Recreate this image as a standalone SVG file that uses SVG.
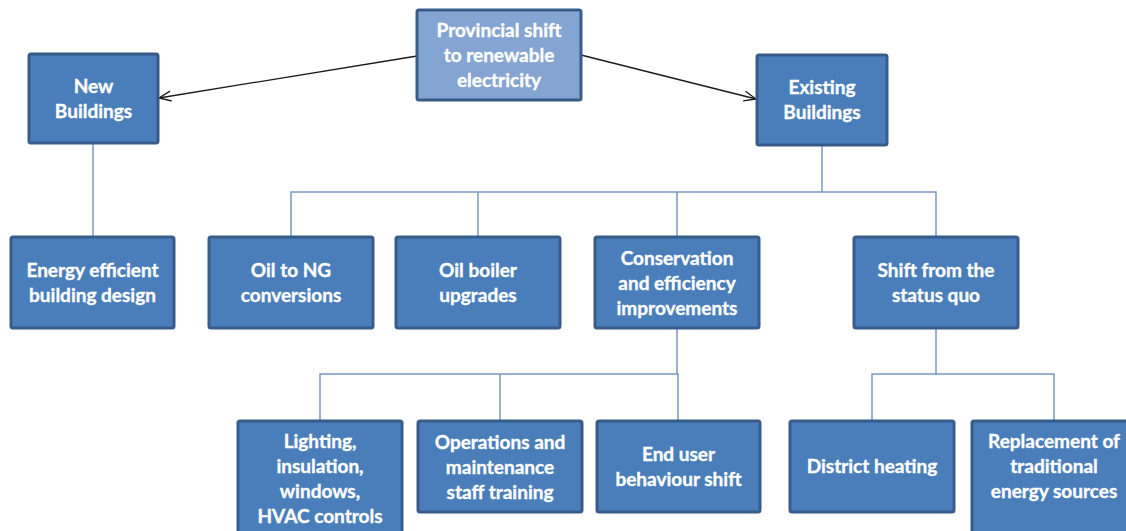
<svg xmlns="http://www.w3.org/2000/svg" width="1126" height="531" viewBox="0 0 1126 531">
<defs>
<style>
.box{fill:#4A7EBB;stroke:#385C8A;stroke-width:3}
.top{fill:#84A4D2;stroke:#385C8A;stroke-width:3}
.t{font-family:Lato,"Liberation Sans",sans-serif;font-weight:700;font-size:19px;fill:#FFFFFF;stroke:#FFFFFF;stroke-width:0.35;text-anchor:middle}
.c{fill:none;stroke:#7A98BF;stroke-width:1.5}
.a{fill:none;stroke:#1A1A1A;stroke-width:1.3}
</style>
<marker id="arr" markerWidth="14" markerHeight="12" refX="13" refY="6" orient="auto" markerUnits="userSpaceOnUse">
<path d="M1,1 L13,6 L1,11" fill="none" stroke="#1A1A1A" stroke-width="1.3"/>
</marker>
</defs>
<rect width="1126" height="531" fill="#FFFFFF"/>
<g id="connectors">
<line class="a" x1="417" y1="56" x2="159" y2="98" marker-end="url(#arr)"/>
<line class="a" x1="581" y1="55" x2="756" y2="99" marker-end="url(#arr)"/>
<path class="c" d="M93,143 V237"/>
<path class="c" d="M822,145 V192"/>
<path class="c" d="M291,237 V192 H936 V237"/>
<path class="c" d="M478,192 V237"/>
<path class="c" d="M677,192 V237"/>
<path class="c" d="M677,328 V374"/>
<path class="c" d="M320,421 V374 H678 V421"/>
<path class="c" d="M500,374 V421"/>
<path class="c" d="M936,328 V374"/>
<path class="c" d="M872,421 V374 H1054 V421"/>
</g>
<g id="n-provincial">
<rect class="top" x="417" y="10" width="164" height="90" rx="2"/>
<text class="t"><tspan x="499" y="37">Provincial shift</tspan><tspan x="499" y="62">to renewable</tspan><tspan x="499" y="87">electricity</tspan></text>
</g>
<g id="n-new">
<rect class="box" x="29" y="54" width="129" height="89" rx="2"/>
<text class="t"><tspan x="93.5" y="93">New</tspan><tspan x="93.5" y="118">Buildings</tspan></text>
</g>
<g id="n-existing">
<rect class="box" x="757" y="55" width="130" height="90" rx="2"/>
<text class="t"><tspan x="822" y="94">Existing</tspan><tspan x="822" y="119">Buildings</tspan></text>
</g>
<g id="n-energy">
<rect class="box" x="11" y="237" width="163" height="91" rx="2"/>
<text class="t"><tspan x="92.5" y="277">Energy efficient</tspan><tspan x="92.5" y="302">building design</tspan></text>
</g>
<g id="n-oilng">
<rect class="box" x="209" y="237" width="164" height="91" rx="2"/>
<text class="t"><tspan x="291" y="277">Oil to NG</tspan><tspan x="291" y="302">conversions</tspan></text>
</g>
<g id="n-boiler">
<rect class="box" x="396" y="237" width="164" height="91" rx="2"/>
<text class="t"><tspan x="478" y="277">Oil boiler</tspan><tspan x="478" y="302">upgrades</tspan></text>
</g>
<g id="n-conservation">
<rect class="box" x="595" y="237" width="164" height="91" rx="2"/>
<text class="t"><tspan x="677" y="265">Conservation</tspan><tspan x="677" y="290">and efficiency</tspan><tspan x="677" y="315">improvements</tspan></text>
</g>
<g id="n-shift">
<rect class="box" x="854" y="237" width="164" height="91" rx="2"/>
<text class="t"><tspan x="936" y="277">Shift from the</tspan><tspan x="936" y="302">status quo</tspan></text>
</g>
<g id="n-lighting">
<rect class="box" x="238" y="421" width="164" height="118" rx="2"/>
<text class="t"><tspan x="320" y="448">Lighting,</tspan><tspan x="320" y="473">insulation,</tspan><tspan x="320" y="498">windows,</tspan><tspan x="320" y="523">HVAC controls</tspan></text>
</g>
<g id="n-operations">
<rect class="box" x="418" y="421" width="164" height="91" rx="2"/>
<text class="t"><tspan x="500" y="449">Operations and</tspan><tspan x="500" y="474">maintenance</tspan><tspan x="500" y="499">staff training</tspan></text>
</g>
<g id="n-enduser">
<rect class="box" x="597" y="421" width="163" height="91" rx="2"/>
<text class="t"><tspan x="678.5" y="461">End user</tspan><tspan x="678.5" y="486">behaviour shift</tspan></text>
</g>
<g id="n-district">
<rect class="box" x="790" y="421" width="164" height="91" rx="2"/>
<text class="t"><tspan x="872" y="473">District heating</tspan></text>
</g>
<g id="n-replacement">
<rect class="box" x="972" y="421" width="164" height="118" rx="2"/>
<text class="t"><tspan x="1054" y="448">Replacement of</tspan><tspan x="1054" y="473">traditional</tspan><tspan x="1054" y="498">energy sources</tspan></text>
</g>
</svg>
